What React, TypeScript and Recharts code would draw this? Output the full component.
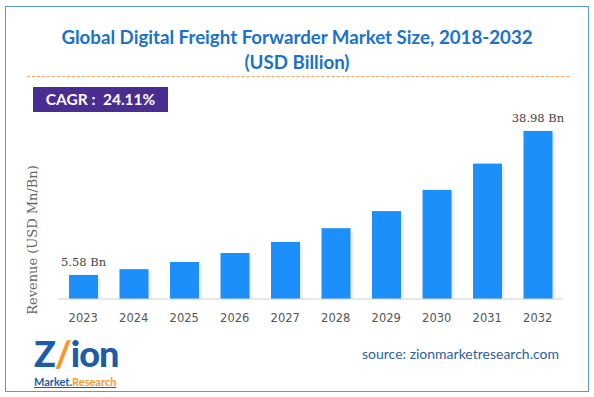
import React from 'react';
import { BarChart, Bar, XAxis, YAxis, LabelList } from 'recharts';

const years = ['2023', '2024', '2025', '2026', '2027', '2028', '2029', '2030', '2031', '2032'];
const revenue = [5.58, 6.93, 8.6, 10.67, 13.24, 16.43, 20.39, 25.31, 31.41, 38.98];
const labelYears = ['2023', '2032'];

const data = years.map((year, i) => ({ year, revenue: revenue[i] }));

const BAR_BLUE = '#1c8ffb';

function ShadowBar(props: any) {
  const { x, y, width, height } = props;
  if (!height || height <= 0) return null;
  return (
    <g>
      <rect x={x + 3} y={y + 3} width={width} height={height - 3} fill="url(#barShadow)" />
      <rect x={x} y={y} width={width} height={height} fill={BAR_BLUE} />
    </g>
  );
}

function EndLabel(props: any) {
  const { x, y, width, value, index } = props;
  if (!labelYears.includes(years[index])) return null;
  return (
    <text
      x={x + width / 2}
      y={y - 9}
      textAnchor="middle"
      fontFamily="'DejaVu Serif', serif"
      fontSize={11.5}
      fill="#444"
    >
      {value.toFixed(2)} Bn
    </text>
  );
}

export default function App() {
  return (
    <div style={{ position: 'absolute', left: 0, top: 0, width: 594, height: 397, background: '#fff' }}>
      <div
        style={{
          position: 'absolute',
          left: 5,
          top: 6,
          width: 582,
          height: 384,
          border: '1.5px solid #5b9bd5',
        }}
      />
      <div
        style={{
          position: 'absolute',
          left: 0,
          top: 25,
          width: 594,
          textAlign: 'center',
          fontFamily: 'Lato, sans-serif',
          fontWeight: 700,
          fontSize: 18.7,
          lineHeight: '25px',
          color: '#1a73c8',
        }}
      >
        Global Digital Freight Forwarder Market Size, 2018-2032
        <br />
        (USD Billion)
      </div>
      <div
        style={{
          position: 'absolute',
          left: 27,
          top: 76,
          width: 542,
          borderTop: '1.5px dashed #f4a15d',
        }}
      />
      <div
        style={{
          position: 'absolute',
          left: 33,
          top: 87,
          width: 135,
          height: 25,
          background: '#4a2d90',
          color: '#fff',
          fontFamily: 'Lato, sans-serif',
          fontWeight: 700,
          fontSize: 15.5,
          lineHeight: '25px',
          textAlign: 'center',
          whiteSpace: 'pre',
        }}
      >
        CAGR :  24.11%
      </div>
      <div
        style={{
          position: 'absolute',
          left: 32,
          top: 240,
          transform: 'translate(-50%, -50%) rotate(-90deg)',
          whiteSpace: 'nowrap',
          fontFamily: "'DejaVu Serif', serif",
          fontSize: 13,
          color: '#666',
        }}
      >
        Revenue (USD Mn/Bn)
      </div>

      <div style={{ position: 'absolute', left: 0, top: 0 }}>
        <BarChart width={594} height={397} data={data} margin={{ top: 105, right: 31, bottom: 68, left: 58 }}>
          <defs>
            <linearGradient id="barShadow" x1="0" y1="0" x2="1" y2="0">
              <stop offset="0%" stopColor="#888" stopOpacity={0.9} />
              <stop offset="100%" stopColor="#bbb" stopOpacity={0.2} />
            </linearGradient>
          </defs>
          <XAxis
            dataKey="year"
            height={30}
            tickLine={false}
            axisLine={{ stroke: '#d0d0d0' }}
            tickMargin={9}
            tick={{ fill: '#555', fontSize: 11.5, fontFamily: "'DejaVu Sans', sans-serif" }}
            interval={0}
          />
          <YAxis hide domain={[0, 45]} />
          <Bar dataKey="revenue" barSize={29} shape={ShadowBar} isAnimationActive={false}>
            <LabelList dataKey="revenue" content={EndLabel} />
          </Bar>
        </BarChart>
      </div>

      <div
        style={{
          position: 'absolute',
          left: 34,
          top: 336,
          fontFamily: 'Lato, sans-serif',
          fontSize: 36,
          fontWeight: 900,
          color: '#1d5ca8',
          lineHeight: '34px',
          letterSpacing: -1,
        }}
      >
        Z<span style={{ color: '#f39a2a' }}>/</span>ion
      </div>
      <div
        style={{
          position: 'absolute',
          left: 34,
          top: 376,
          fontFamily: 'Lato, sans-serif',
          fontSize: 11,
          fontWeight: 700,
          lineHeight: '12px',
          textDecoration: 'underline',
          color: '#1d5ca8',
        }}
      >
        Market.<span style={{ color: '#f39a2a' }}>Research</span>
      </div>
      <div
        style={{
          position: 'absolute',
          left: 362,
          top: 345,
          fontFamily: 'Lato, sans-serif',
          fontSize: 14,
          color: '#2a5fa0',
        }}
      >
        source: zionmarketresearch.com
      </div>
    </div>
  );
}
